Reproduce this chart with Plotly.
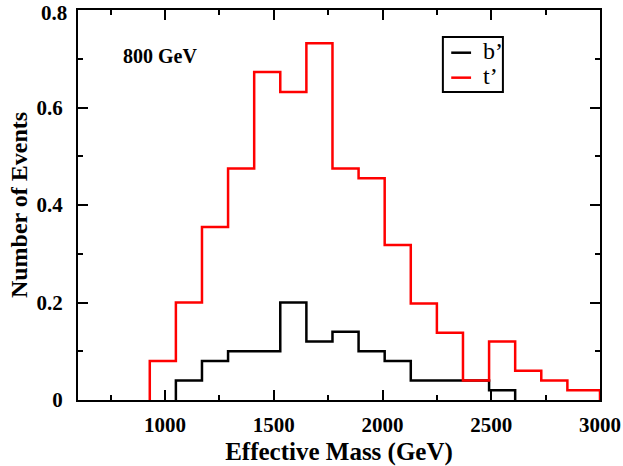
import plotly.graph_objects as go

# Bin edges (GeV) and bin contents
red_edges = [930, 1050, 1170, 1290, 1410, 1530, 1650, 1770, 1890, 2010,
             2130, 2250, 2370, 2490, 2610, 2730, 2850, 3000]
red_values = [0.08, 0.20, 0.355, 0.475, 0.673, 0.632, 0.732, 0.475, 0.455,
              0.318, 0.198, 0.138, 0.04, 0.12, 0.06, 0.04, 0.02]

black_edges = [1050, 1170, 1290, 1410, 1530, 1650, 1770, 1890, 2010,
               2130, 2250, 2370, 2490, 2610]
black_values = [0.04, 0.08, 0.10, 0.10, 0.20, 0.12, 0.14, 0.10, 0.08,
                0.04, 0.04, 0.04, 0.02]

series_names = ["b\u2019", "t\u2019"]
series_colors = ["black", "#ff0000"]

x_tick_vals = [1000, 1500, 2000, 2500, 3000]
x_tick_text = ["1000", "1500", "2000", "2500", "3000"]
y_tick_vals = [0, 0.2, 0.4, 0.6, 0.8]
y_tick_text = ["0", "0.2", "0.4", "0.6", "0.8"]


def step_path(edges, values):
    xs = [edges[0]]
    ys = [0]
    for i, v in enumerate(values):
        xs += [edges[i], edges[i + 1]]
        ys += [v, v]
    xs.append(edges[-1])
    ys.append(0)
    return xs, ys


FONT = "Liberation Serif"

fig = go.Figure()
bx, by = step_path(black_edges, black_values)
rx, ry = step_path(red_edges, red_values)
fig.add_trace(go.Scatter(x=bx, y=by, mode="lines", name=series_names[0],
                         line=dict(color=series_colors[0], width=2.5), showlegend=False))
fig.add_trace(go.Scatter(x=rx, y=ry, mode="lines", name=series_names[1],
                         line=dict(color=series_colors[1], width=2.5), showlegend=False))

axis_common = dict(
    showline=True, linecolor="black", linewidth=2, mirror="allticks",
    ticks="inside", ticklen=10, tickwidth=1.5, tickcolor="black",
    showgrid=False, zeroline=False, automargin=False,
    ticklabeloverflow="allow",
    tickfont=dict(family=FONT, size=21, color="black"),
)

fig.update_xaxes(
    range=[600, 3000], tickvals=x_tick_vals,
    ticktext=["<b>%s</b>" % t for t in x_tick_text],
    minor=dict(ticks="inside", ticklen=5, dtick=250, tick0=0, tickcolor="black", tickwidth=1.5),
    title=dict(text="<b>Effective Mass (GeV)</b>", font=dict(family=FONT, size=25, color="black"), standoff=6),
    ticklabelstandoff=5,
    **axis_common,
)
# The top label sits at the very edge of the page; draw it as an annotation
# anchored inside the page so it is not clipped.
y_labels = ["<b>%s</b>" % t for t in y_tick_text[:-1]] + [""]
fig.update_yaxes(
    range=[0, 0.8], tickvals=y_tick_vals, ticktext=y_labels,
    minor=dict(ticks="inside", ticklen=5, dtick=0.1, tick0=0, tickcolor="black", tickwidth=1.5),
    title=dict(text="<b>Number of Events</b>", font=dict(family=FONT, size=24, color="black"), standoff=2),
    ticklabelstandoff=9,
    **axis_common,
)
fig.add_annotation(x=0, y=y_tick_vals[-1], xref="paper", yref="y", text="<b>%s</b>" % y_tick_text[-1],
                   showarrow=False, xanchor="right", yanchor="top", xshift=-9, yshift=11,
                   font=dict(family=FONT, size=21, color="black"))

fig.add_annotation(x=0.082, y=0.882, xref="paper", yref="paper", text="<b>800 GeV</b>",
                   showarrow=False, xanchor="left", yanchor="middle",
                   font=dict(family=FONT, size=20, color="black"))

# Hand-drawn legend box (compact, as in the reference)
fig.add_shape(type="rect", xref="paper", yref="paper", x0=0.699, x1=0.814, y0=0.790, y1=0.931,
              line=dict(color="black", width=2), fillcolor="white", layer="above")
legend_y = [0.8905, 0.8265]
for name, col, ly in zip(series_names, series_colors, legend_y):
    fig.add_shape(type="line", xref="paper", yref="paper", x0=0.715, x1=0.753, y0=ly, y1=ly,
                  line=dict(color=col, width=2.5), layer="above")
    fig.add_annotation(x=0.772, y=ly + 0.005, xref="paper", yref="paper", text=name,
                       showarrow=False, xanchor="left", yanchor="middle",
                       font=dict(family=FONT, size=24, color="black"))

fig.update_layout(
    width=623, height=466,
    margin=dict(l=78, r=23, t=10, b=66),
    paper_bgcolor="white", plot_bgcolor="white",
    showlegend=False,
)

fig.write_html("out.html")
